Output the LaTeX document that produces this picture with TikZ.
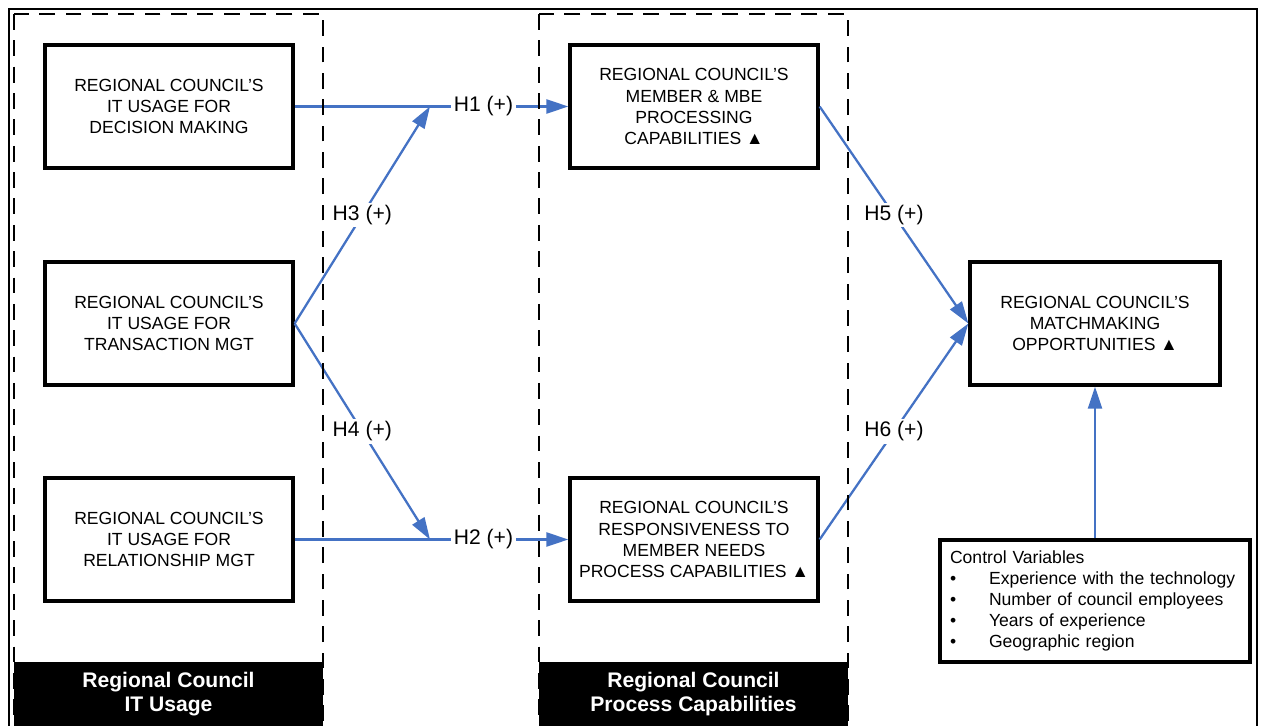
\documentclass[tikz,border=0pt]{standalone}
\usepackage{fontspec}
\setmainfont{Liberation Sans}
\usetikzlibrary{arrows.meta}

\definecolor{linkblue}{RGB}{68,114,196}
\newcommand{\bulletitem}{\makebox[0.78cm][l]{•}}
\tikzset{
  box/.style={draw, line width=1.9pt, minimum width=4.96cm, minimum height=2.46cm,
    align=center, font=\fontsize{10}{12}\selectfont},
  group/.style={line width=1.1pt, dash pattern=on 9pt off 6pt},
  grouplabel/.style={fill=black, text=white, minimum width=6.18cm, minimum height=1.28cm,
    align=center, font=\bfseries\fontsize{12}{14}\selectfont},
  link/.style={draw=linkblue, line width=1.3pt,
    -{Triangle[length=0.44cm,width=0.28cm,fill=linkblue]}},
  hyp/.style={fill=white, inner sep=1.5pt, font=\fontsize{12}{14}\selectfont}
}

\begin{document}
\begin{tikzpicture}[x=0.02cm,y=-0.02cm]

\useasboundingbox (0,0) rectangle (1263,726);
\draw[line width=1.6pt] (9,730) -- (9,9) -- (1257,9) -- (1257,730);

\node[grouplabel] (usage) at (168.5,694) {Regional Council\\IT Usage};
\node[grouplabel] (process) at (693.5,694) {Regional Council\\Process Capabilities};

\node[box] (dec) at (169,106.5) {REGIONAL COUNCIL’S\\IT USAGE FOR\\DECISION MAKING};
\node[box] (trans) at (169,323.5) {REGIONAL COUNCIL’S\\IT USAGE FOR\\TRANSACTION MGT};
\node[box] (rel) at (169,539.5) {REGIONAL COUNCIL’S\\IT USAGE FOR\\RELATIONSHIP MGT};
\node[box] (member) at (694,106.5) {REGIONAL COUNCIL’S\\MEMBER \& MBE\\PROCESSING\\CAPABILITIES ▲};
\node[box] (resp) at (694,539.5) {REGIONAL COUNCIL’S\\RESPONSIVENESS TO\\MEMBER NEEDS\\PROCESS CAPABILITIES ▲};
\node[box, minimum width=5cm] (match) at (1095,323.5) {REGIONAL COUNCIL’S\\MATCHMAKING\\OPPORTUNITIES ▲};
\node[box, text width=5.8cm, inner xsep=0.2cm, minimum height=2.44cm, align=left] (ctrl) at (1095,601)
  {Control Variables\\
   \bulletitem Experience with the technology\\
   \bulletitem Number of council employees\\
   \bulletitem Years of experience\\
   \bulletitem Geographic region};

\coordinate (j1) at (430,106.5);
\coordinate (j2) at (430,539.5);

\draw[link] (dec.east) -- node[hyp, pos=0.69] {H1 (+)} (member.west);
\draw[link] (trans.east) -- node[hyp] {H3 (+)} (j1);
\draw[link] (trans.east) -- node[hyp] {H4 (+)} (j2);
\draw[link] (rel.east) -- node[hyp, pos=0.69] {H2 (+)} (resp.west);
\draw[link] (member.east) -- node[hyp] {H5 (+)} (match.west);
\draw[link] (resp.east) -- node[hyp] {H6 (+)} (match.west);
\draw[link] (ctrl.north) -- (match.south);

\draw[group] (14,14) rectangle (323,727);
\draw[group] (539,14) rectangle (848,727);

\end{tikzpicture}
\end{document}
